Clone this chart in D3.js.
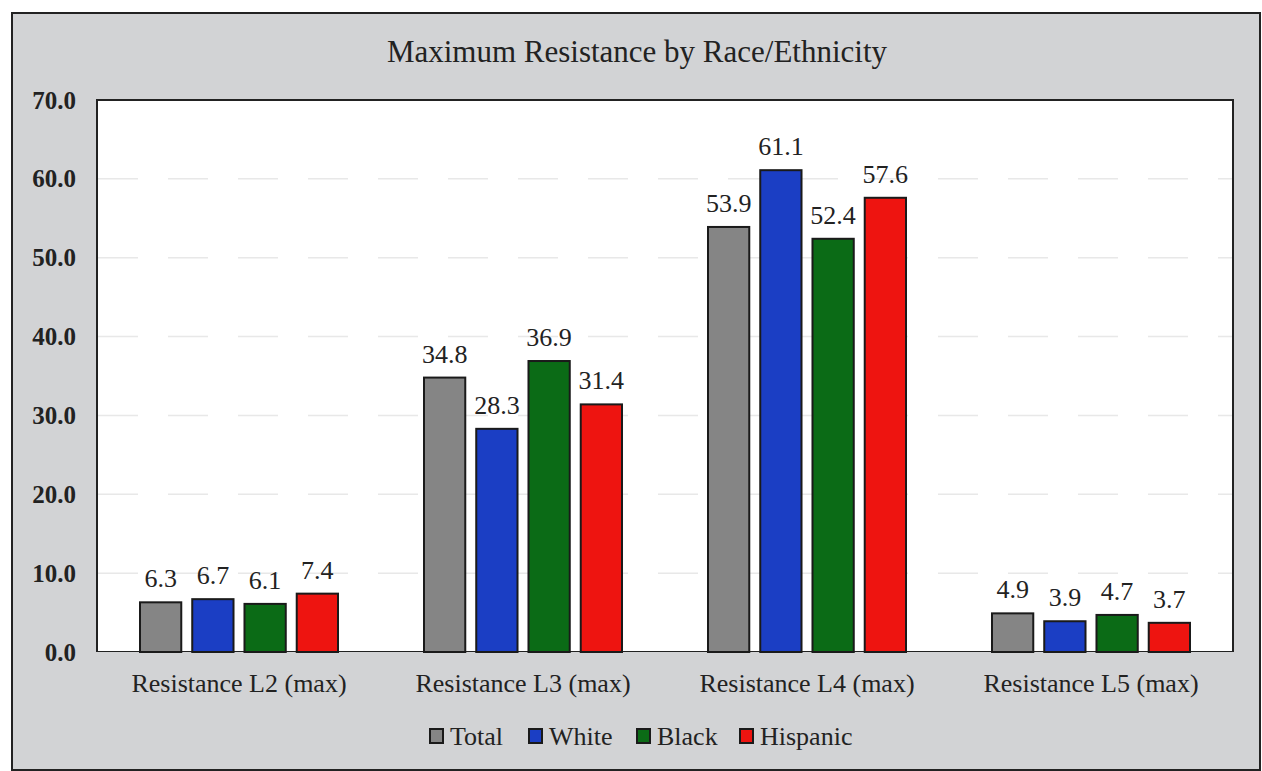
<!DOCTYPE html>
<html>
<head>
<meta charset="utf-8">
<script src="https://cdn.jsdelivr.net/npm/d3@7"></script>
<style>
  body { margin: 0; background: #fff; }
  text { font-family: "Liberation Serif", "Times New Roman", serif; fill: #222; }
</style>
</head>
<body>
<svg id="chart" width="1262" height="771"></svg>
<script>
// data
var categories = ["Resistance L2 (max)", "Resistance L3 (max)", "Resistance L4 (max)", "Resistance L5 (max)"];
var groups = ["Total", "White", "Black", "Hispanic"];
var total    = [6.3, 34.8, 53.9, 4.9];
var white    = [6.7, 28.3, 61.1, 3.9];
var black    = [6.1, 36.9, 52.4, 4.7];
var hispanic = [7.4, 31.4, 57.6, 3.7];
var yTicks = [0, 10, 20, 30, 40, 50, 60, 70];

var colors = ["#858585", "#1b3ec4", "#0b6b16", "#ee1410"];
var seriesVals = [total, white, black, hispanic];

var svg = d3.select("#chart");
var plot = {left: 97, top: 100, right: 1233, bottom: 652};

// outer gray frame
svg.append("rect")
   .attr("x", 12).attr("y", 13)
   .attr("width", 1248).attr("height", 757)
   .attr("fill", "#d2d3d5")
   .attr("stroke", "#222").attr("stroke-width", 2);

// white plot area
svg.append("rect")
   .attr("x", plot.left).attr("y", plot.top)
   .attr("width", plot.right - plot.left).attr("height", plot.bottom - plot.top)
   .attr("fill", "#fff")
   .attr("stroke", "#222").attr("stroke-width", 2);

var x0 = d3.scaleBand()
           .domain(categories)
           .range([plot.left, plot.right])
           .paddingInner(0)
           .paddingOuter(0);

var x1 = d3.scaleBand()
           .domain(groups)
           .range([43, x0.bandwidth() - 43])
           .paddingInner(0.21)
           .paddingOuter(0);

var y = d3.scaleLinear()
          .domain([0, 70])
          .range([plot.bottom, plot.top]);

// faint gridlines
svg.append("g")
   .selectAll("line")
   .data(yTicks.filter(function(d) { return d > 0 && d < 70; }))
   .enter().append("line")
   .attr("x1", plot.left + 1).attr("x2", plot.right - 1)
   .attr("y1", function(d) { return y(d); })
   .attr("y2", function(d) { return y(d); })
   .attr("stroke", "#e8e8e8")
   .attr("stroke-width", 1.5)
   .attr("stroke-dasharray", "40,30");

// y axis labels
var yAxis = d3.axisLeft(y)
              .tickValues(yTicks)
              .tickFormat(d3.format(".1f"))
              .tickSize(0)
              .tickPadding(21);

var yAxisGroup = svg.append("g")
   .attr("transform", "translate(" + plot.left + ",0)")
   .call(yAxis);
yAxisGroup.select(".domain").remove();
yAxisGroup.selectAll("text")
   .style("font-family", "'Liberation Serif', serif")
   .style("font-size", "25px")
   .style("font-weight", "bold")
   .attr("fill", "#333");

// gray strip below plot for category labels
svg.append("rect")
   .attr("x", plot.left - 1).attr("y", plot.bottom)
   .attr("width", plot.right - plot.left + 2).attr("height", 4)
   .attr("fill", "#d2d3d5");

// bars
var barGroups = svg.append("g")
   .selectAll("g")
   .data(categories)
   .enter().append("g")
   .attr("transform", function(d) { return "translate(" + x0(d) + ",0)"; });

barGroups.selectAll("rect")
   .data(function(d, i) {
       return groups.map(function(g, j) { return {group: g, value: seriesVals[j][i], idx: j}; });
   })
   .enter().append("rect")
   .attr("x", function(d) { return x1(d.group); })
   .attr("y", function(d) { return y(d.value); })
   .attr("width", x1.bandwidth())
   .attr("height", function(d) { return y(0) - y(d.value); })
   .attr("fill", function(d) { return colors[d.idx]; })
   .attr("stroke", "#1a1a1a")
   .attr("stroke-width", 2);

// value labels
barGroups.selectAll("text.val")
   .data(function(d, i) {
       return groups.map(function(g, j) { return {group: g, value: seriesVals[j][i]}; });
   })
   .enter().append("text")
   .attr("class", "val")
   .attr("x", function(d) { return x1(d.group) + x1.bandwidth() / 2; })
   .attr("y", function(d) { return y(d.value) - 15; })
   .attr("text-anchor", "middle")
   .style("font-size", "26px")
   .text(function(d) { return d.value.toFixed(1); });

// category labels
svg.append("g")
   .selectAll("text")
   .data(categories)
   .enter().append("text")
   .attr("x", function(d) { return x0(d) + x0.bandwidth() / 2; })
   .attr("y", 692)
   .attr("text-anchor", "middle")
   .style("font-size", "26px")
   .text(function(d) { return d; });

// title
svg.append("text")
   .attr("x", 637).attr("y", 62)
   .attr("text-anchor", "middle")
   .style("font-size", "31px")
   .text("Maximum Resistance by Race/Ethnicity");

// legend
var legendX = [430, 529, 637, 740];
var legend = svg.append("g")
   .selectAll("g")
   .data(groups)
   .enter().append("g")
   .attr("transform", function(d, i) { return "translate(" + legendX[i] + ",736)"; });

legend.append("rect")
   .attr("x", 0).attr("y", -7)
   .attr("width", 13).attr("height", 14)
   .attr("fill", function(d, i) { return colors[i]; })
   .attr("stroke", "#1a1a1a")
   .attr("stroke-width", 2);

legend.append("text")
   .attr("x", 20).attr("y", 9)
   .style("font-size", "26px")
   .text(function(d) { return d; });
</script>
</body>
</html>
